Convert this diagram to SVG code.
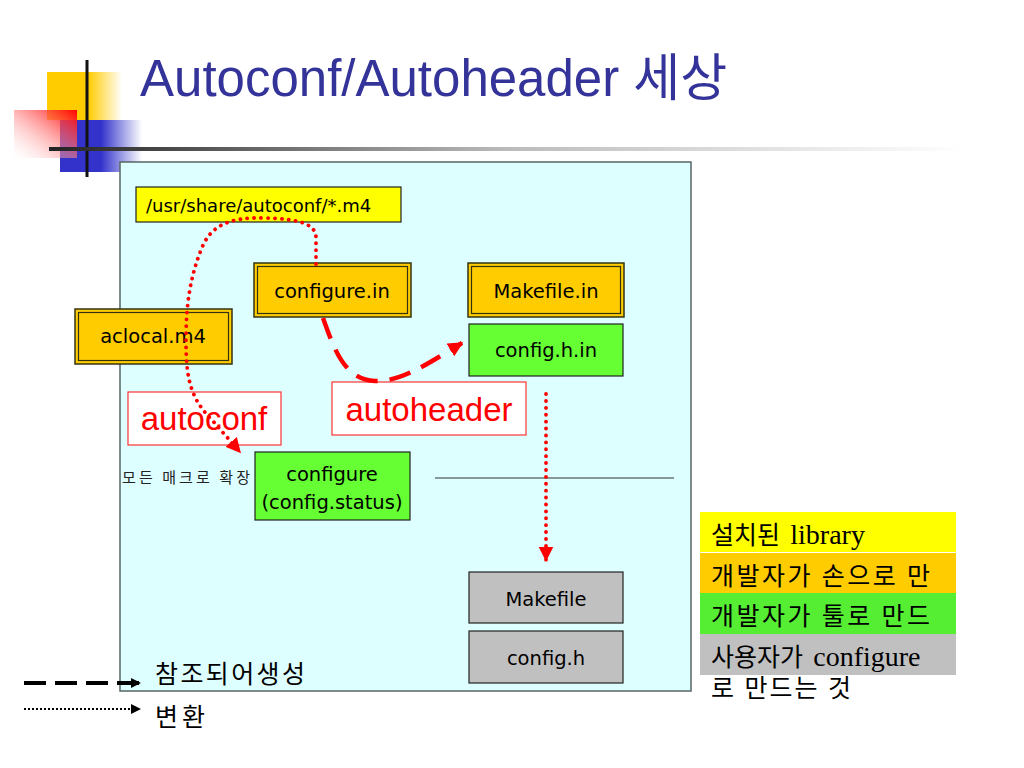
<svg xmlns="http://www.w3.org/2000/svg" width="1024" height="768" viewBox="0 0 1024 768">
<defs>
<linearGradient id="gYel" x1="0" y1="0" x2="1" y2="0"><stop offset="0" stop-color="#FFCC00"/><stop offset="0.55" stop-color="#FFCC00"/><stop offset="1" stop-color="#FFCC00" stop-opacity="0"/></linearGradient>
<linearGradient id="gBlue" x1="0" y1="0" x2="1" y2="0"><stop offset="0" stop-color="#3333CC"/><stop offset="0.5" stop-color="#3333CC"/><stop offset="1" stop-color="#3333CC" stop-opacity="0"/></linearGradient>
<linearGradient id="gRed" x1="1" y1="0" x2="0" y2="1"><stop offset="0" stop-color="#FF0000"/><stop offset="1" stop-color="#FFFFFF" stop-opacity="0.2"/></linearGradient>
<linearGradient id="gRule" x1="0" y1="0" x2="1" y2="0"><stop offset="0" stop-color="#222222"/><stop offset="0.5" stop-color="#BBBBBB"/><stop offset="1" stop-color="#FFFFFF"/></linearGradient>
<marker id="aRed" viewBox="0 0 10 10" refX="9" refY="5" markerUnits="userSpaceOnUse" markerWidth="15" markerHeight="15" orient="auto"><path d="M0,0 L10,5 L0,10 z" fill="#FF0000"/></marker>
<marker id="aBlk" viewBox="0 0 10 10" refX="9" refY="5" markerUnits="userSpaceOnUse" markerWidth="10" markerHeight="10" orient="auto"><path d="M0,0 L10,5 L0,10 z" fill="#000"/></marker>
</defs>
<style>
.box{font-family:"DejaVu Sans","Liberation Sans",sans-serif;font-size:19.5px;fill:#000;text-anchor:middle}
.lab{font-family:"Liberation Sans",Arial,sans-serif;fill:#FF0000;font-size:33px}
.leg{font-family:"Liberation Serif","Noto Sans CJK KR",serif;font-size:25px;fill:#000}
.lat{font-size:28px}
.dot{fill:none;stroke:#FF0000;stroke-width:3.8;stroke-linecap:round;stroke-dasharray:0.1 6.8}
.dash{fill:none;stroke:#FF0000;stroke-width:4.5;stroke-dasharray:22 12}
.outer{stroke:#333311;stroke-width:1.5}
.inner{fill:none;stroke:#333311;stroke-width:1.2}
.plain{stroke:#222;stroke-width:1.2}
</style>
<rect width="1024" height="768" fill="#FFFFFF"/>
<g id="logo">
<rect x="47" y="72" width="75" height="48" fill="url(#gYel)"/>
<rect x="60" y="120" width="82" height="52" fill="url(#gBlue)"/>
<rect x="14" y="110" width="63" height="48" fill="url(#gRed)"/>
<rect x="85.5" y="60" width="3" height="117" fill="#111"/>
<rect x="49" y="147" width="915" height="4" fill="url(#gRule)"/>
</g>
<text id="title" x="140" y="96" font-family="Liberation Sans,Arial,'Noto Sans CJK KR',sans-serif" font-size="51" fill="#333399">Autoconf/Autoheader 세상</text>
<rect id="panel" x="120" y="162" width="571" height="529" fill="#DDFFFF" stroke="#556666" stroke-width="1.5"/>
<line x1="435" y1="478" x2="674" y2="478" stroke="#333" stroke-width="1.2"/>
<g id="m4">
<rect x="136" y="187" width="265" height="35" fill="#FFFF00" class="plain"/>
<text class="box" x="146" y="212" style="text-anchor:start;font-size:18px">/usr/share/autoconf/*.m4</text>
</g>
<g id="configure_in">
<rect x="254" y="263" width="157" height="54" fill="#FFCC00" class="outer"/>
<rect x="257.5" y="266.5" width="150" height="47" class="inner"/>
<text class="box" x="332" y="298">configure.in</text>
</g>
<g id="aclocal">
<rect x="75" y="309" width="157" height="55" fill="#FFCC00" class="outer"/>
<rect x="78.5" y="312.5" width="150" height="48" class="inner"/>
<text class="box" x="153" y="343">aclocal.m4</text>
</g>
<g id="makefile_in">
<rect x="468" y="263" width="156" height="54" fill="#FFCC00" class="outer"/>
<rect x="471.5" y="266.5" width="149" height="47" class="inner"/>
<text class="box" x="546" y="298">Makefile.in</text>
</g>
<g id="config_h_in">
<rect x="469" y="324" width="154" height="52" fill="#66FF33" class="plain"/>
<text class="box" x="546" y="357">config.h.in</text>
</g>
<g id="autoheader">
<rect x="332" y="382" width="194" height="53" fill="#FFFFFF" stroke="#FF3333" stroke-width="1.2"/>
<text class="lab" x="429" y="421" text-anchor="middle">autoheader</text>
</g>
<g id="autoconf">
<rect x="128" y="392" width="153" height="53" fill="#FFFFFF" stroke="#FF3333" stroke-width="1.2"/>
<text class="lab" x="204" y="430" text-anchor="middle">autoconf</text>
</g>
<g id="configure">
<rect x="255" y="452" width="155" height="68" fill="#66FF33" class="plain"/>
<text class="box" x="332" y="481">configure</text>
<text class="box" x="332" y="509">(config.status)</text>
</g>
<text id="expand" x="122" y="483" font-family="'Noto Sans CJK KR',sans-serif" font-size="15" fill="#222" textLength="128" lengthAdjust="spacing">모든 매크로 확장</text>
<g id="makefile">
<rect x="469" y="572" width="154" height="51" fill="#C0C0C0" class="plain"/>
<text class="box" x="546" y="606">Makefile</text>
</g>
<g id="config_h">
<rect x="469" y="631" width="154" height="52" fill="#C0C0C0" class="plain"/>
<text class="box" x="546" y="665">config.h</text>
</g>
<g id="connectors">
<path class="dot" d="M316,264 L316,238 C316,224 300,219 265,218 C228,217 210,226 201,250 C190,278 186,305 186,340 C186,378 190,398 212,420 L240,452" marker-end="url(#aRed)"/>
<path class="dash" d="M323,318 C333,345 343,380 375,381 C402,382 430,362 462,343" marker-end="url(#aRed)"/>
<path class="dot" d="M546,394 L546,560" marker-end="url(#aRed)"/>
</g>
<g id="legend_colors">
<rect x="700" y="512" width="256" height="40" fill="#FFFF00"/>
<rect x="700" y="553" width="256" height="40" fill="#FFCC00"/>
<rect x="700" y="593" width="256" height="41" fill="#55EE33"/>
<rect x="700" y="634" width="256" height="41" fill="#C0C0C0"/>
<text class="leg" x="711" y="544" word-spacing="4">설치된 <tspan class="lat">library</tspan></text>
<text class="leg" x="711" y="585" textLength="219" lengthAdjust="spacing">개발자가 손으로 만</text>
<text class="leg" x="711" y="625" textLength="219" lengthAdjust="spacing">개발자가 툴로 만드</text>
<text class="leg" x="711" y="666" word-spacing="4">사용자가 <tspan class="lat">configure</tspan></text>
<text class="leg" x="711" y="697" textLength="140" lengthAdjust="spacing">로 만드는 것</text>
</g>
<g id="legend_lines">
<line x1="24" y1="683" x2="140" y2="683" stroke="#000" stroke-width="4" stroke-dasharray="22 9" marker-end="url(#aBlk)"/>
<line x1="24" y1="709" x2="140" y2="709" stroke="#000" stroke-width="2" stroke-dasharray="2 2" marker-end="url(#aBlk)"/>
<text class="leg" x="155" y="683" textLength="150" lengthAdjust="spacing">참조되어생성</text>
<text class="leg" x="155" y="726" textLength="50" lengthAdjust="spacing">변환</text>
</g>
</svg>
